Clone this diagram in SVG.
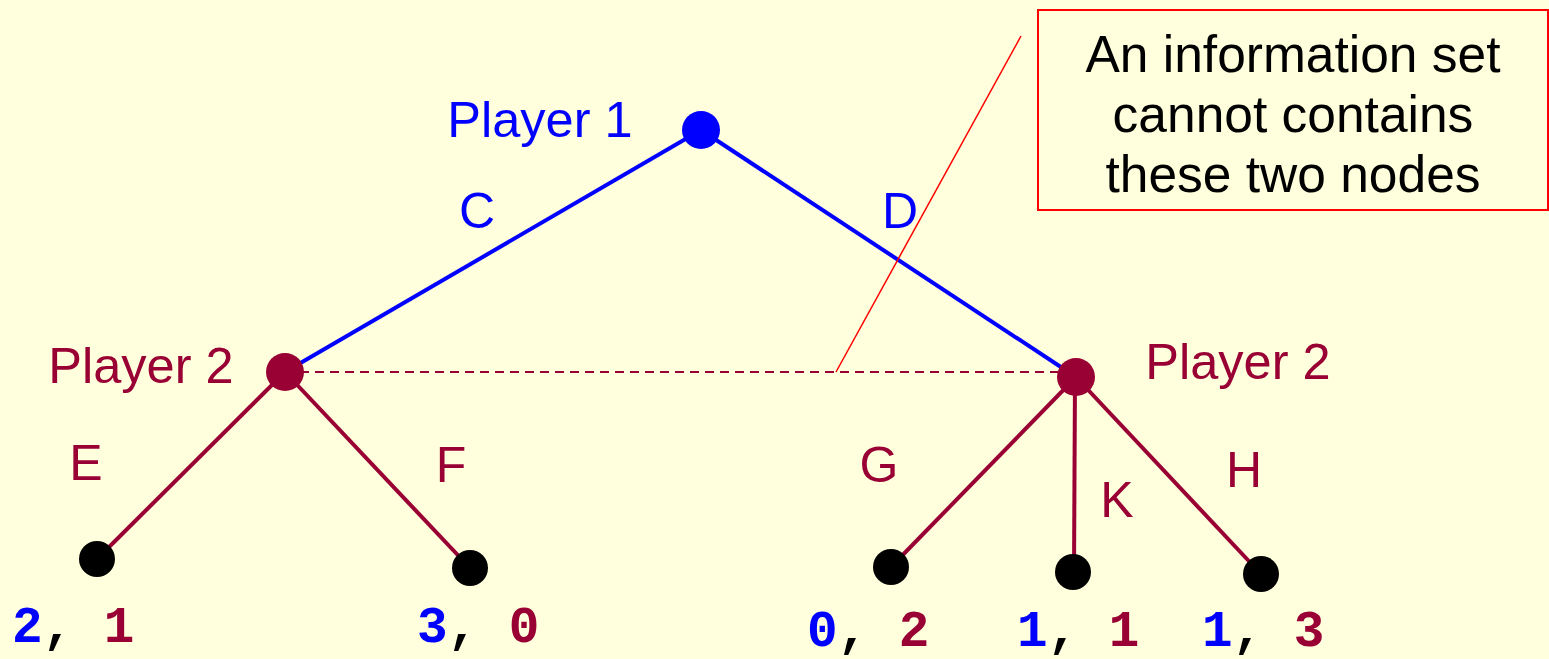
<svg xmlns="http://www.w3.org/2000/svg" width="1549" height="659" viewBox="0 0 1549 659">
<style>
.sans{font-family:"Liberation Sans",Arial,sans-serif}
.mono{font-family:"Liberation Mono","Courier New",monospace;font-weight:bold;font-size:51px}
.p1{fill:#0000FF}
.p2{fill:#990033}
.blk{fill:#000000}
.e1{stroke:#0000FF;stroke-width:4;fill:none}
.e2{stroke:#990033;stroke-width:4;fill:none}
</style>
<rect x="0" y="0" width="1549" height="659" fill="#FFFFDD"/>
<g id="connectors">
<line class="e1" x1="701" y1="130" x2="285" y2="372"/>
<line class="e1" x1="701" y1="130" x2="1076" y2="377"/>
<line stroke="#990033" stroke-width="2" stroke-dasharray="9,6" x1="300" y1="372" x2="1060" y2="372"/>
<line stroke="#FF0000" stroke-width="1.5" x1="1021" y1="36" x2="836" y2="372"/>
<line class="e2" x1="285" y1="372" x2="97" y2="559"/>
<line class="e2" x1="285" y1="372" x2="470" y2="568"/>
<line class="e2" x1="1076" y1="377" x2="891" y2="567"/>
<line class="e2" x1="1075" y1="377" x2="1074" y2="572"/>
<line class="e2" x1="1076" y1="377" x2="1261" y2="574"/>
</g>
<g id="root"><circle cx="701" cy="130" r="19" fill="#0000FF"/><text class="sans p1" x="540" y="137" font-size="50.5" text-anchor="middle">Player 1</text></g>
<g id="p2left"><circle cx="285" cy="372" r="19" fill="#990033"/><text class="sans p2" x="141" y="383" font-size="50.5" text-anchor="middle">Player 2</text></g>
<g id="p2right"><circle cx="1076" cy="377" r="19" fill="#990033"/><text class="sans p2" x="1238" y="379" font-size="50.5" text-anchor="middle">Player 2</text></g>
<g id="labels" class="sans" font-size="50">
<text class="p1" x="477" y="228" text-anchor="middle">C</text>
<text class="p1" x="900" y="228" text-anchor="middle">D</text>
<text class="p2" x="86" y="480" text-anchor="middle">E</text>
<text class="p2" x="451" y="482" text-anchor="middle">F</text>
<text class="p2" x="879" y="482" text-anchor="middle">G</text>
<text class="p2" x="1117" y="517" text-anchor="middle">K</text>
<text class="p2" x="1244" y="487" text-anchor="middle">H</text>
</g>
<g id="leaf1"><circle cx="97" cy="559" r="18" fill="#000"/><text class="mono" x="12" y="642"><tspan class="p1">2</tspan><tspan class="blk">, </tspan><tspan class="p2">1</tspan></text></g>
<g id="leaf2"><circle cx="470" cy="568" r="18" fill="#000"/><text class="mono" x="417" y="642"><tspan class="p1">3</tspan><tspan class="blk">, </tspan><tspan class="p2">0</tspan></text></g>
<g id="leaf3"><circle cx="891" cy="567" r="18" fill="#000"/><text class="mono" x="807" y="646"><tspan class="p1">0</tspan><tspan class="blk">, </tspan><tspan class="p2">2</tspan></text></g>
<g id="leaf4"><circle cx="1073" cy="572" r="18" fill="#000"/><text class="mono" x="1017" y="646"><tspan class="p1">1</tspan><tspan class="blk">, </tspan><tspan class="p2">1</tspan></text></g>
<g id="leaf5"><circle cx="1261" cy="574" r="18" fill="#000"/><text class="mono" x="1202" y="646"><tspan class="p1">1</tspan><tspan class="blk">, </tspan><tspan class="p2">3</tspan></text></g>
<g id="note">
<rect x="1038" y="10" width="510" height="200" fill="#FFFFDD" stroke="#FF0000" stroke-width="2"/>
<text class="sans blk" font-size="51.5" text-anchor="middle"><tspan x="1293" y="72">An information set</tspan><tspan x="1293" y="132">cannot contains</tspan><tspan x="1293" y="192">these two nodes</tspan></text>
</g>
</svg>
